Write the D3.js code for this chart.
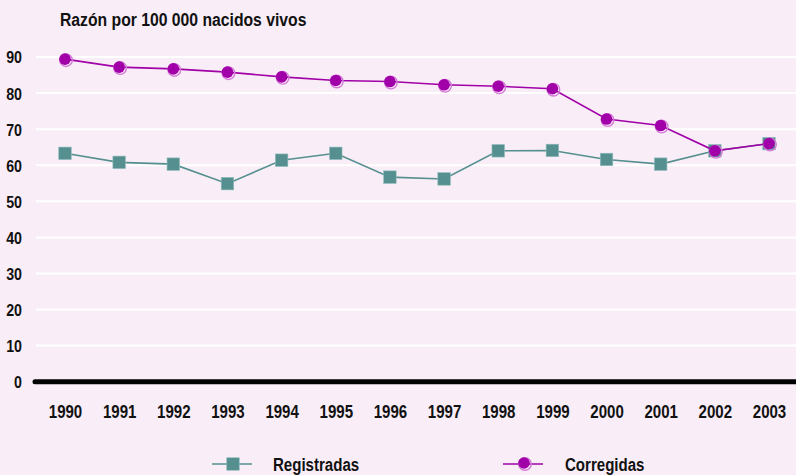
<!DOCTYPE html>
<html>
<head>
<meta charset="utf-8">
<script src="https://cdn.jsdelivr.net/npm/d3@7"></script>
<style>
  html, body { margin: 0; padding: 0; background: #f9eef7; }
  svg { display: block; }
  text { font-family: "Liberation Sans", Arial, sans-serif; font-weight: bold; fill: #111; }
</style>
</head>
<body>
<svg id="chart" width="796" height="475"></svg>
<script>
// Maternal mortality ratio, per 100 000 live births
const years = ["1990","1991","1992","1993","1994","1995","1996","1997","1998","1999","2000","2001","2002","2003"];
const registradas = [63.3, 60.8, 60.3, 54.9, 61.4, 63.3, 56.7, 56.2, 64.0, 64.1, 61.6, 60.3, 64.0, 66.0];
const corregidas  = [89.4, 87.2, 86.7, 85.8, 84.5, 83.5, 83.2, 82.3, 81.9, 81.2, 72.8, 71.0, 64.0, 66.0];
const yTicks = [0, 10, 20, 30, 40, 50, 60, 70, 80, 90];
const title = "Razón por 100 000 nacidos vivos";
const seriesNames = ["Registradas", "Corregidas"];

const tealColor = "#558f8f";
const purpleColor = "#a100a8";
const NARROW = 0.86; // horizontal squeeze giving a condensed bold face

const svg = d3.select("#chart");

const x = d3.scalePoint().domain(years).range([65, 769]);
const y = d3.scaleLinear().domain([0, 90]).range([381.7, 57]);

// squeeze text horizontally (keeps it as real text)
function condense(sel, k) {
  sel.each(function () {
    const w = this.getComputedTextLength();
    d3.select(this)
      .attr("textLength", w * k)
      .attr("lengthAdjust", "spacingAndGlyphs");
  });
}

// title
svg.append("text")
  .attr("x", 60).attr("y", 26)
  .attr("font-size", 18.3)
  .text(title)
  .call(condense, NARROW);

// horizontal gridlines
svg.append("g").selectAll("line")
  .data(yTicks.filter(d => d > 0))
  .join("line")
  .attr("x1", 36).attr("x2", 796)
  .attr("y1", d => y(d)).attr("y2", d => y(d))
  .attr("stroke", "#ffffff").attr("stroke-width", 2);

// y axis labels
const yAxis = d3.axisLeft(y).tickValues(yTicks).tickSize(0).tickPadding(0);
svg.append("g")
  .attr("transform", "translate(22,0)")
  .call(yAxis)
  .call(g => g.select(".domain").remove())
  .call(g => g.selectAll("text")
    .attr("font-size", 16.5)
    .attr("fill", "#111")
    .attr("font-family", null)
    .attr("dy", "0.36em")
    .call(condense, NARROW));

// zero baseline
svg.append("line")
  .attr("x1", 35).attr("x2", 800)
  .attr("y1", y(0)).attr("y2", y(0))
  .attr("stroke", "#000").attr("stroke-width", 5)
  .attr("stroke-linecap", "round");

// x axis labels
const xAxis = d3.axisBottom(x).tickSize(0).tickPadding(0);
svg.append("g")
  .attr("transform", "translate(0,418)")
  .call(xAxis)
  .call(g => g.select(".domain").remove())
  .call(g => g.selectAll("text")
    .attr("font-size", 17.5)
    .attr("fill", "#111")
    .attr("font-family", null)
    .attr("dy", 0)
    .call(condense, NARROW));

const line = d3.line()
  .x((d, i) => x(years[i]))
  .y(d => y(d));

// Registradas series
svg.append("path")
  .datum(registradas)
  .attr("d", line)
  .attr("fill", "none")
  .attr("stroke", tealColor)
  .attr("stroke-width", 1.6);

function squareMarker(sel, cx, cy, s) {
  sel.append("rect")
    .attr("x", cx - s / 2).attr("y", cy - s / 2)
    .attr("width", s).attr("height", s)
    .attr("fill", tealColor)
    .attr("stroke", "#8fbcbc").attr("stroke-width", 0.6);
}
function circleMarker(sel, cx, cy, r) {
  sel.append("circle")
    .attr("cx", cx + 1).attr("cy", cy + 1).attr("r", r)
    .attr("fill", "none")
    .attr("stroke", "#d47ad8").attr("stroke-width", 1.4);
  sel.append("circle")
    .attr("cx", cx).attr("cy", cy).attr("r", r - 0.5)
    .attr("fill", purpleColor);
}

const regG = svg.append("g");
registradas.forEach((v, i) => squareMarker(regG, x(years[i]), y(v), 12.5));

// Corregidas series
svg.append("path")
  .datum(corregidas)
  .attr("d", line)
  .attr("fill", "none")
  .attr("stroke", purpleColor)
  .attr("stroke-width", 1.6);

const corG = svg.append("g");
corregidas.forEach((v, i) => circleMarker(corG, x(years[i]), y(v), 6.3));

// legend
const legY = 464;
const leg = svg.append("g");
leg.append("line").attr("x1", 212).attr("x2", 252).attr("y1", legY).attr("y2", legY)
  .attr("stroke", tealColor).attr("stroke-width", 1.6);
squareMarker(leg, 233, legY, 12.5);
leg.append("text").attr("x", 273).attr("y", 471).attr("font-size", 17.5)
  .text(seriesNames[0]).call(condense, NARROW);

leg.append("line").attr("x1", 503).attr("x2", 543).attr("y1", legY).attr("y2", legY)
  .attr("stroke", purpleColor).attr("stroke-width", 1.6);
circleMarker(leg, 524, legY - 1, 6.3);
leg.append("text").attr("x", 565).attr("y", 471).attr("font-size", 17.5)
  .text(seriesNames[1]).call(condense, NARROW);
</script>
</body>
</html>
